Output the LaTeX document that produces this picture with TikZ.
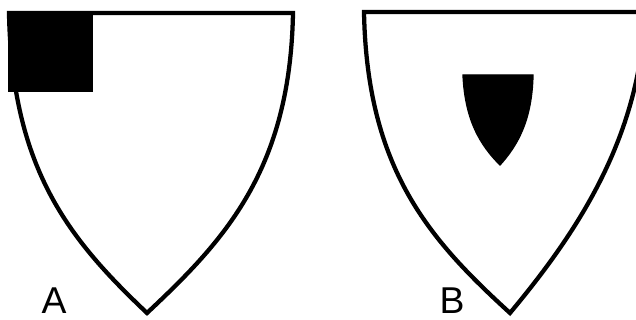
\documentclass[tikz,border=0pt]{standalone}
\usepackage{fontspec}
\setmainfont{Liberation Sans}
\tikzset{
  outline/.style={draw=black, line width=3.2pt, line join=miter},
  charge/.style={fill=black, draw=black, line width=1pt},
  letter/.style={font=\fontsize{28}{28}\selectfont, inner sep=0pt, anchor=base}
}
\begin{document}
\begin{tikzpicture}[x=0.75pt,y=-0.75pt]
\useasboundingbox (0,0) rectangle (636,320);
\clip (0,0) rectangle (636,320);
\fill[white] (0,0) rectangle (636,320);
% Shield A
\draw[outline] (9,13) -- (293,13)
  .. controls (290,170) and (225,240) .. (147,313)
  .. controls (70,240) and (12,170) .. (9,13) -- cycle;
\filldraw[charge] (9,13) rectangle (92,91);
\node[letter] (la) at (54,314) {A};
% Shield B
\draw[outline] (364,12) -- (645,12)
  .. controls (640,140) and (575,235) .. (510,313)
  .. controls (430,240) and (367,170) .. (364,12) -- cycle;
\filldraw[charge] (463,75) -- (533,75)
  .. controls (532,120) and (518,145) .. (500,165)
  .. controls (480,145) and (465,120) .. (463,75) -- cycle;
\node[letter] (lb) at (452,314) {B};
\end{tikzpicture}
\end{document}
